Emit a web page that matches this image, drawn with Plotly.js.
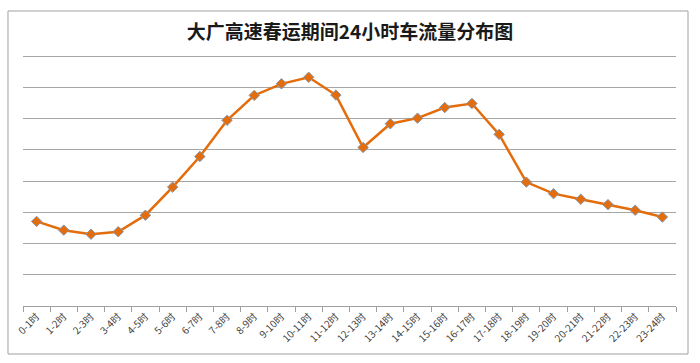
<!DOCTYPE html>
<html>
<head>
<meta charset="utf-8">
<script src="https://cdn.plot.ly/plotly-3.0.1.min.js"></script>
<style>html,body{margin:0;padding:0;background:#fff;}#chart{width:700px;height:363px;}</style>
</head>
<body>
<div id="chart"></div>
<script>
var hours = ["0-1时","1-2时","2-3时","3-4时","4-5时","5-6时","6-7时","7-8时","8-9时","9-10时","10-11时","11-12时",
             "12-13时","13-14时","14-15时","15-16时","16-17时","17-18时","18-19时","19-20时","20-21时","21-22时","22-23时","23-24时"];
var flow = [2.71, 2.43, 2.30, 2.38, 2.91, 3.81, 4.79, 5.95, 6.75, 7.12, 7.33, 6.76,
            5.08, 5.84, 6.02, 6.36, 6.49, 5.50, 3.97, 3.60, 3.42, 3.25, 3.07, 2.85];
var titleText = "<b>大广高速春运期间24小时车流量分布图</b>";

var trace = {
  x: hours, y: flow, type: "scatter", mode: "lines+markers",
  line: {color: "#E46C0A", width: 2.5},
  marker: {symbol: "diamond", size: 8, color: "#E46C0A", line: {color: "#8497B0", width: 1}},
  hoverinfo: "x+y"
};

var layout = {
  width: 700, height: 363,
  margin: {l: 23, r: 24, t: 47, b: 57},
  paper_bgcolor: "#ffffff", plot_bgcolor: "#ffffff",
  showlegend: false,
  title: {text: titleText, x: 0.5, xanchor: "center", y: 0.912, yanchor: "middle",
          font: {family: "Noto Sans CJK SC", size: 19, color: "#1a1a1a"}},
  xaxis: {
    type: "category", range: [-0.5, hours.length - 0.5], tickangle: -45, tickson: "boundaries",
    ticks: "outside", ticklen: 5,
    tickcolor: "#A0A0A0", showline: true, linecolor: "#A0A0A0", linewidth: 1,
    showgrid: false, zeroline: false, fixedrange: true, automargin: false,
    tickfont: {family: "Noto Sans CJK SC", size: 10, color: "#404040"}
  },
  yaxis: {
    range: [0, 8.3], tick0: 0, dtick: 1, showticklabels: false, ticks: "", automargin: false,
    showgrid: true, gridcolor: "#A6A6A6", gridwidth: 1, zeroline: false, showline: false, fixedrange: true
  },
  shapes: [{
    type: "rect", xref: "paper", yref: "paper",
    x0: -0.023, x1: 1.0184, y0: -0.1853, y1: 1.139,
    line: {color: "#A0A0A0", width: 1}, fillcolor: "rgba(0,0,0,0)", layer: "below"
  }]
};

Plotly.newPlot("chart", [trace], layout, {displayModeBar: false, staticPlot: true});
</script>
</body>
</html>
